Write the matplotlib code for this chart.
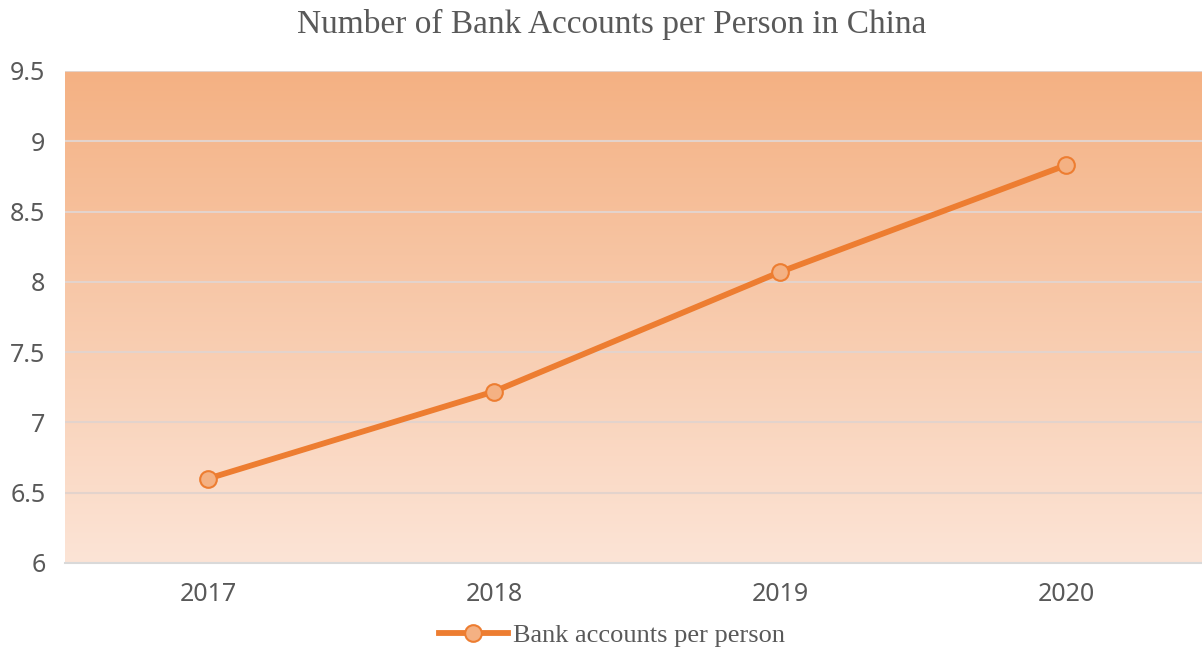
import numpy as np
import matplotlib.pyplot as plt
from matplotlib.colors import LinearSegmentedColormap

years = ["2017", "2018", "2019", "2020"]
accounts = [6.6, 7.22, 8.07, 8.83]
yticks = [6, 6.5, 7, 7.5, 8, 8.5, 9, 9.5]
ytick_labels = ["6", "6.5", "7", "7.5", "8", "8.5", "9", "9.5"]

W, H = 1202, 651
fig = plt.figure(figsize=(W / 100, H / 100), dpi=100)
# plot area runs slightly past the right edge, as in the source
ax = fig.add_axes([65 / W, 1 - 563 / H, (1209 - 65) / W, (563 - 71) / H])

x = np.arange(len(years))
ax.set_xlim(-0.5, len(years) - 0.5)
ax.set_ylim(6, 9.5)

# vertical orange gradient background
cmap = LinearSegmentedColormap.from_list("bg", ["#FCE4D6", "#F4B183"])
grad = np.linspace(0, 1, 256).reshape(-1, 1)
ax.imshow(grad, aspect="auto", cmap=cmap, origin="lower",
          extent=[-0.5, len(years) - 0.5, 6, 9.5], zorder=0)

for yv in yticks[1:]:
    ax.axhline(yv, color="#E3D3CC", lw=1.5, zorder=1)

ax.plot(x, accounts, color="#ED7D31", lw=4.2, marker="o", markersize=12,
        markerfacecolor="#F4B183", markeredgecolor="#ED7D31",
        markeredgewidth=1.5, zorder=3, label="Bank accounts per person")

for s in ["top", "right", "left"]:
    ax.spines[s].set_visible(False)
ax.spines["bottom"].set_color("#D9D9D9")
ax.spines["bottom"].set_linewidth(1.5)

ax.set_xticks(x)
ax.set_xticklabels(years)
ax.set_yticks(yticks)
ax.set_yticklabels(ytick_labels)
ax.tick_params(length=0, labelsize=18, labelcolor="#595959")
ax.tick_params(axis="x", pad=14)
ax.tick_params(axis="y", pad=14)
for lab in ax.get_xticklabels() + ax.get_yticklabels():
    lab.set_family("Noto Sans")

fig.text(612 / W, 1 - 24 / H, "Number of Bank Accounts per Person in China",
         ha="center", va="center", fontsize=24, color="#595959",
         family="Liberation Serif")

leg = fig.legend(loc="center", bbox_to_anchor=(612 / W, 1 - 635 / H),
                 frameon=False, handlelength=2.6, handletextpad=0.2,
                 prop={"family": "Liberation Serif", "size": 19})
for t in leg.get_texts():
    t.set_color("#595959")

fig.savefig("out.png", dpi=100)
